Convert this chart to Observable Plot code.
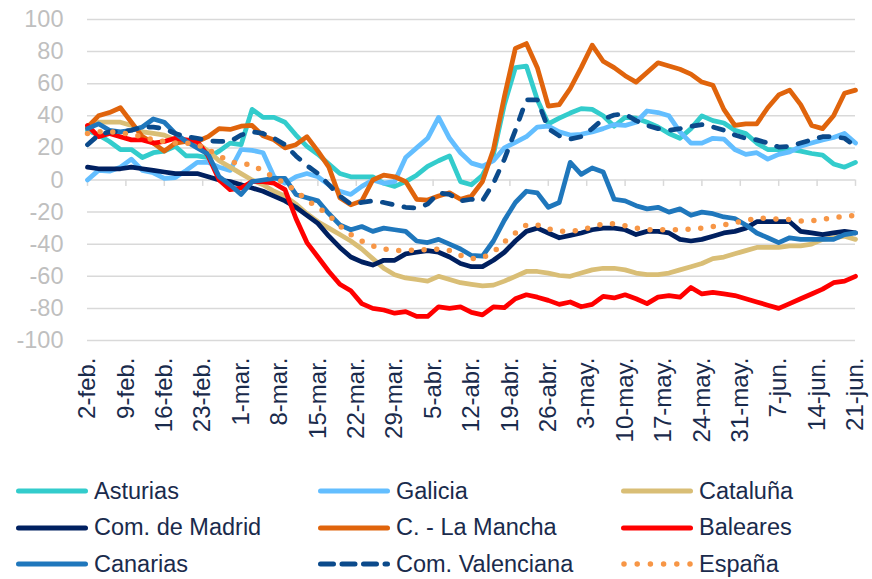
<!DOCTYPE html>
<html>
<head>
<meta charset="utf-8">
<script src="https://cdn.jsdelivr.net/npm/d3@7"></script>
<script src="https://cdn.jsdelivr.net/npm/@observablehq/plot@0.6"></script>
<style>
  body { margin: 0; background: #fff; font-family: "Liberation Sans", Arial, sans-serif; }
  #chart svg { display: block; }
  #chart g[aria-label="y-axis tick label"] { fill: #bfbfbf; }
  #chart g[aria-label="x-axis tick label"] { fill: #1a2b4c; }
  #legend { display: grid; grid-template-columns: 302px 303px 250px; padding-left: 16px; padding-top: 13px; width: 856px; }
  .item { display: flex; align-items: center; height: 36.5px; font-size: 23.5px; color: #1a2b4c; white-space: nowrap; }
  .item svg { margin-right: 6px; flex: none; }
</style>
</head>
<body>
<div id="chart"></div>
<div id="legend"></div>
<script>
// ---- data (values every 2 days from 2-feb-2020 to 21-jun-2020) ----
const startDate = "2020-02-02";
const endDate = "2020-06-21";
const stepDays = 2;

const seriesNames = ["Asturias", "Galicia", "Cataluña", "Com. de Madrid", "C. - La Mancha", "Baleares", "Canarias", "Com. Valenciana", "España"];
const seriesColors = ["#33CCCC", "#63BEFF", "#D9BE76", "#002060", "#E0640C", "#FF0000", "#1F77BC", "#0B4A8B", "#F79646"];
const seriesDash = ["solid", "solid", "solid", "solid", "solid", "solid", "solid", "dash", "dot"];

const asturias = [31,28,24,19,19,14,17,18,21,15, 15,14,18,23,22,44,39,39,36,28, 21,16,10,4,2,2,2,-2,-4,-1, 3,8.5,12,15,-1,-3,3,16,47,70, 71,50,35,38.5,41.7,44.5,44,40,33.5,39, 38.5,36,33,29,26,32,40,37,35.5,31, 29,23,19,19,19,18,16.5,15.5,10,8, 11];
const galicia = [0,6,5.5,8,13,6,4.5,1,1.5,6, 11,11,8,6,19,18.5,17,2,-2,2, 4,2,-3,-7,-9,-4,0,-2,-1,14, 20,26,39,26,17,10.5,8.5,12,20,23.5, 27,33,33.5,30,28,28.5,30,32,34.5,34, 36,43,42,40,30,23,23,26,25.5,19, 16,17,13,16,17.5,21,23,25,26.5,29, 23];
const cataluna = [32,36,36,36,34,30,29,28,25,24, 23,18,12,8,4,0,-3,-7,-10,-15, -21,-26,-30,-34,-38,-43,-49,-55,-59,-61, -62,-63,-60,-62,-64,-65,-66,-65.5,-63,-60, -57,-57,-58,-59.5,-60,-58,-56,-55,-55,-56, -58,-59,-59,-58,-56,-54,-52,-49,-48,-46, -44,-42,-42,-42,-41,-41,-40,-37,-36,-35, -37];
const madrid = [8,7,7,7,8,7,6,5,4,4, 4,2,0,-1,-3,-5,-7,-10,-13,-17, -22,-27,-35,-42,-48,-51,-53,-50,-50,-46, -45,-44,-45,-48,-52,-54,-54,-50,-45,-38, -32,-30,-33,-36,-34.5,-33,-31,-30,-30,-31, -34,-32,-32,-33,-37,-38,-37,-35,-33,-32, -30,-26,-26,-26,-26,-32,-33,-34,-33,-32, -33];
const laMancha = [33,40,42,45,36,27,23,18,23,24, 24,27,32,31.5,33.5,34,27.5,25,20,22, 27,18,8,-11,-15.5,-13,0,3,2,-1, -12,-12.5,-10,-8,-12,-10,-1,19,52,82, 85,70,46,47,57,70,84,74,70,65, 61,67,73,71,69,66,61,59,44,34, 35,35,45,53,56,47,34,32,40,54, 56];
const baleares = [34,27,29,27,25,25,23,24,26,25, 24,15,0,-6,-5,-1,-1,-2,-6,-24, -39,-48,-57,-65,-69,-77,-80,-81,-83,-82, -85,-85,-79,-80,-79,-82.5,-84,-79,-79.5,-74, -71.5,-73,-75,-77.5,-76,-79,-77.5,-72.5,-73.5,-71.5, -74,-77,-73,-72,-73,-67,-71,-70,-71,-72, -74,-76,-78,-80,-77,-74,-71,-68,-64,-63, -60];
const canarias = [32,35,31,30,31,33,38,36,29,24, 20,16,2,-3,-9,-1,0,1,1,-9, -11,-13,-21,-28,-31,-29,-32,-30,-31,-32, -38,-39,-37,-40,-43,-47,-47.5,-38,-25,-14, -7,-8,-17,-14,11,3.5,7.5,5,-12,-13, -16,-18,-17,-20,-18,-22,-20,-21,-23,-24, -28,-33,-36,-39,-36,-37,-37,-37,-37,-34, -33];
const valenciana = [22,28,30,30,31,33,33,32,29,27, 26,24.5,24,24,28,30,29,26,22,15, 9,4,-3,-10,-15,-14,-13,-14,-15.5,-17, -17.5,-15,-8,-9,-13,-12,-13,-2,13,31, 50,50,32,27.5,25.5,27,32,38,40.5,41, 37,34,32,31,32,33.5,34.5,33,31,28, 26,25,23,20.5,21,23,25,27,27,26, 21];
const espana = [29,30,30,29.5,28.5,27,25,24,23,23, 22,19,15,11.5,10,9.5,5.5,1.7,-2,-7, -12.5,-17,-22,-28.5,-34,-38,-41,-43,-44,-44, -43.5,-43.5,-43,-44,-47,-49,-48.5,-45,-38.5,-33, -28,-28,-30.5,-32,-32,-31,-29.3,-27.2,-27.2,-28.5, -30,-31,-31,-31,-31,-30.5,-30,-29,-28,-26.5, -25.5,-23.7,-24,-24.5,-24.7,-25.5,-25.5,-24.5,-23.5,-22.6, -22];

const seriesValues = [asturias, galicia, cataluna, madrid, laMancha, baleares, canarias, valenciana, espana];

const yTicks = [-100, -80, -60, -40, -20, 0, 20, 40, 60, 80, 100];
const xTickLabels = ["2-feb.","9-feb.","16-feb.","23-feb.","1-mar.","8-mar.","15-mar.","22-mar.","29-mar.","5-abr.","12-abr.","19-abr.","26-abr.","3-may.","10-may.","17-may.","24-may.","31-may.","7-jun.","14-jun.","21-jun."];

// ---- build ----
const start = new Date(startDate + "T00:00:00Z");
const end = new Date(endDate + "T00:00:00Z");
const xTickDates = xTickLabels.map((_, i) => d3.utcDay.offset(start, 7 * i));
const labelByTime = new Map(xTickDates.map((d, i) => [+d, xTickLabels[i]]));

const dashOf = t => t === "dash" ? "10,12" : t === "dot" ? "0,12.7" : null;
const widthOf = t => t === "dot" ? 5.5 : 4.75;

const lineMarks = seriesNames.map((name, s) => {
  const rows = seriesValues[s].map((v, j) => ({date: d3.utcDay.offset(start, j * stepDays), value: v, series: name}));
  return Plot.line(rows, {
    x: "date", y: "value",
    stroke: seriesColors[s],
    strokeWidth: widthOf(seriesDash[s]),
    strokeDasharray: dashOf(seriesDash[s]),
    strokeLinecap: "round",
    strokeLinejoin: "round"
  });
});

const plot = Plot.plot({
  width: 872,
  height: 460,
  marginTop: 19,
  marginBottom: 120,
  marginLeft: 87,
  marginRight: 17,
  style: {fontFamily: '"Liberation Sans", Arial, sans-serif', color: "#1a2b4c", background: "white", overflow: "visible"},
  x: {type: "utc", domain: [start, end]},
  y: {domain: [-100, 100]},
  marks: [
    Plot.ruleY(yTicks, {stroke: "#d9d9d9", strokeWidth: 1.5}),
    Plot.ruleX(xTickDates, {x: d => d, y1: 0, y2: -4, stroke: "#d9d9d9", strokeWidth: 1.5}),
    ...lineMarks,
    Plot.axisY({ticks: yTicks, tickSize: 0, tickPadding: 24, fontSize: 23.5, label: null, tickFormat: d => String(d)}),
    Plot.axisX({ticks: xTickDates, tickSize: 0, tickPadding: 17, tickRotate: -90, fontSize: 24, label: null,
      tickFormat: d => labelByTime.get(+d)})
  ]
});
document.getElementById("chart").append(plot);

// ---- legend ----
const legend = document.getElementById("legend");
seriesNames.forEach((name, s) => {
  const item = document.createElement("div");
  item.className = "item";
  const dash = dashOf(seriesDash[s]);
  const w = seriesDash[s] === "dot" ? 5.5 : 5;
  const x1 = seriesDash[s] === "dot" ? 3 : 2.5;
  const x2 = seriesDash[s] === "dot" ? 70 : 69.5;
  item.innerHTML =
    `<svg width="72" height="10"><line x1="${x1}" x2="${x2}" y1="5" y2="5" stroke="${seriesColors[s]}" stroke-width="${w}" stroke-linecap="round" ${dash ? `stroke-dasharray="${seriesDash[s] === "dash" ? "13,8.5" : "0,13.2"}"` : ""}/></svg><span>${name}</span>`;
  legend.append(item);
});
</script>
</body>
</html>
